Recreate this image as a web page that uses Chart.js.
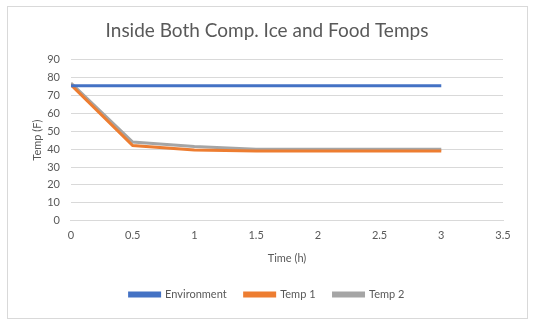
<!DOCTYPE html>
<html>
<head>
<meta charset="utf-8">
<script src="https://cdn.jsdelivr.net/npm/chart.js@4"></script>
<style>
  body { margin: 0; background: #fff; }
  #box { position: absolute; left: 7px; top: 6px; width: 521px; height: 313px; border: 1px solid #d9d9d9; box-sizing: border-box; }
  canvas { display: block; }
</style>
</head>
<body>
<div id="box"><canvas id="tempChart" width="519" height="311"></canvas></div>
<script>
// Time points (h) and temperatures (F)
const times = [0, 0.5, 1, 1.5, 2, 2.5, 3];
const environment = [75.5, 75.5, 75.5, 75.5, 75.5, 75.5, 75.5];
const temp1 = [76, 42, 39.5, 39, 39, 39, 39];
const temp2 = [77, 44, 41.5, 40, 40, 40, 40];

const textColor = '#595959';
const fontFamily = 'Lato, "Open Sans", sans-serif';

function points(ys) {
    return times.map((t, i) => ({ x: t, y: ys[i] }));
}

function series(label, ys, color) {
    return {
        label: label,
        data: points(ys),
        borderColor: color,
        backgroundColor: color,
        borderWidth: 3,
        pointRadius: 0,
        tension: 0
    };
}

const ctx = document.getElementById('tempChart').getContext('2d');
new Chart(ctx, {
    type: 'line',
    data: {
        datasets: [
            series('Environment', environment, '#4472c4'),
            series('Temp 1', temp1, '#ed7d31'),
            series('Temp 2', temp2, '#a5a5a5')
        ]
    },
    options: {
        responsive: false,
        animation: false,
        layout: { padding: { left: 23, right: 24, top: 6, bottom: 8 } },
        plugins: {
            title: {
                display: true,
                text: 'Inside Both Comp. Ice and Food Temps',
                color: textColor,
                font: { family: fontFamily, size: 19, weight: 'normal' },
                padding: { top: 6, bottom: 18 }
            },
            legend: {
                position: 'bottom',
                labels: {
                    color: textColor,
                    font: { family: fontFamily, size: 11 },
                    boxWidth: 30,
                    boxHeight: 3,
                    padding: 18
                }
            },
            tooltip: { enabled: false }
        },
        scales: {
            x: {
                type: 'linear',
                min: 0,
                max: 3.5,
                ticks: {
                    stepSize: 0.5,
                    padding: 8,
                    color: textColor,
                    font: { family: fontFamily, size: 11 },
                    callback: v => String(v)
                },
                grid: { display: false, drawTicks: false },
                border: { color: '#d9d9d9' },
                title: {
                    display: true,
                    text: 'Time (h)',
                    color: textColor,
                    font: { family: fontFamily, size: 11 },
                    padding: { top: 2, bottom: 6 }
                }
            },
            y: {
                min: 0,
                max: 90,
                ticks: { stepSize: 10, color: textColor, font: { family: fontFamily, size: 11 }, padding: 11 },
                grid: { color: '#d9d9d9', drawTicks: false },
                border: { display: false },
                title: {
                    display: true,
                    text: 'Temp (F)',
                    color: textColor,
                    font: { family: fontFamily, size: 11 },
                    padding: { top: 0, bottom: -8 }
                }
            }
        }
    }
});
</script>
</body>
</html>
